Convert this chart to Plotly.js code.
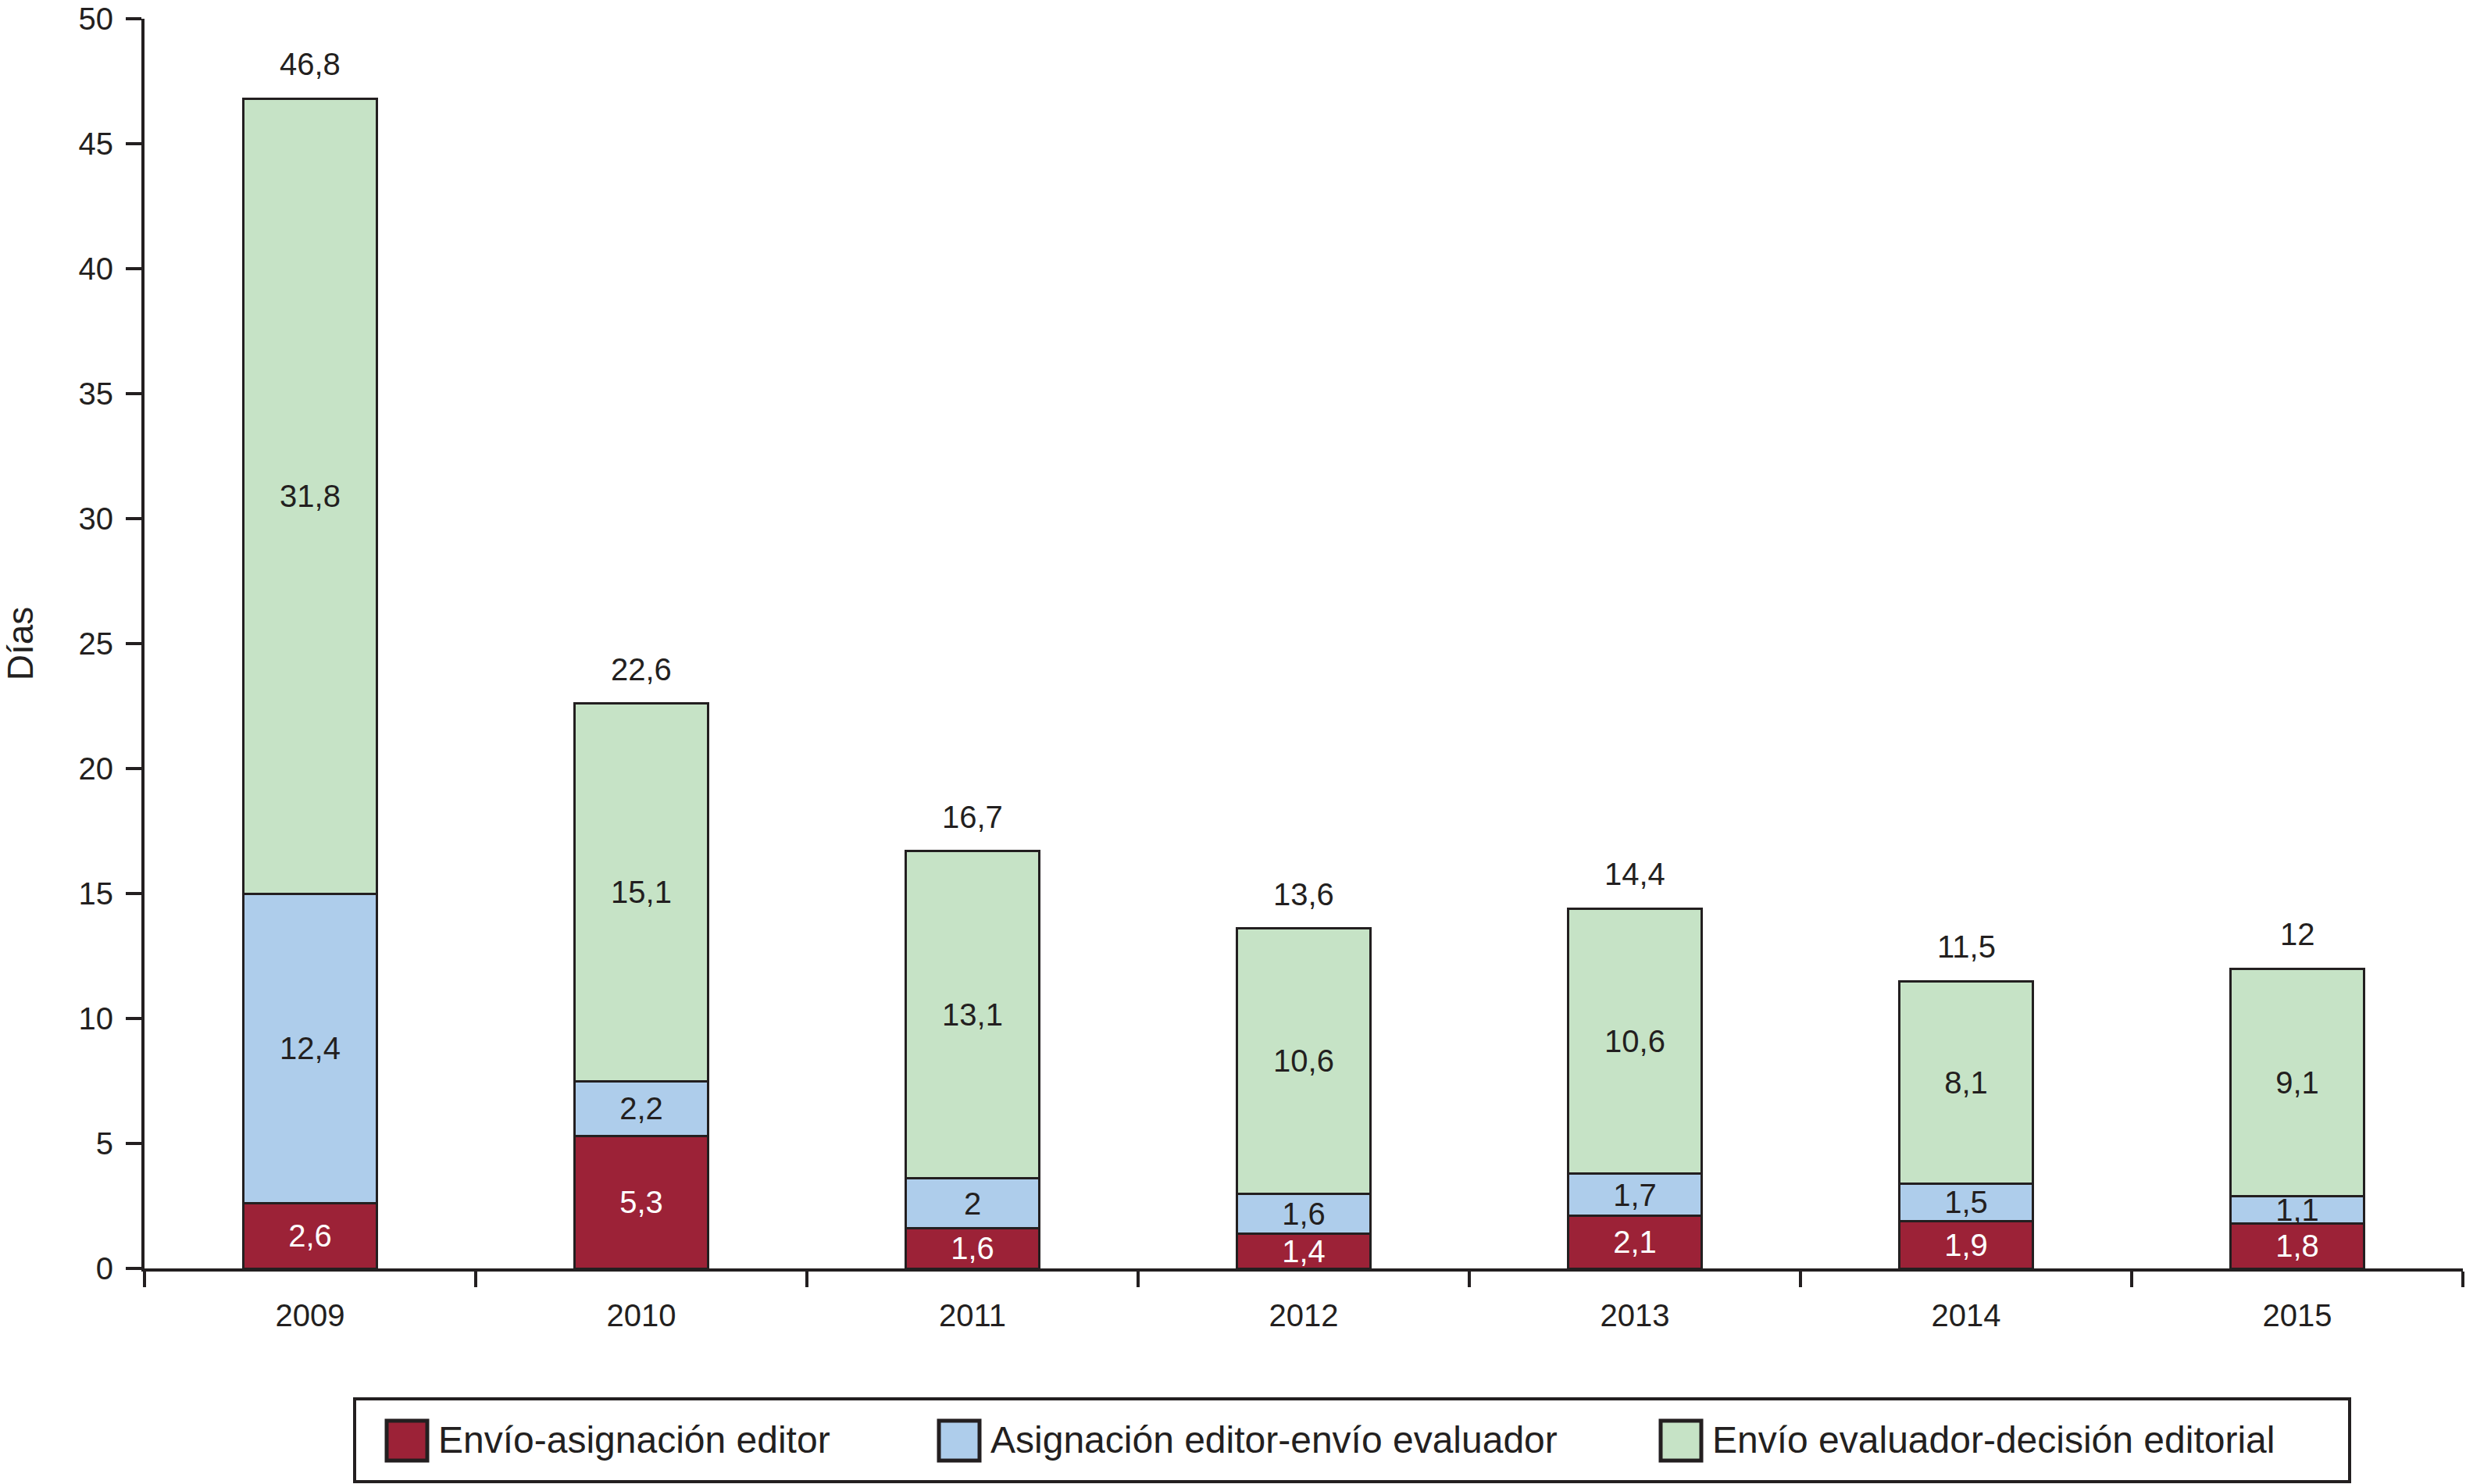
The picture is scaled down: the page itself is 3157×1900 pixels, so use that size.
<!DOCTYPE html>
<html><head><meta charset="utf-8">
<script src="https://cdn.plot.ly/plotly-3.0.1.min.js"></script>
<style>html,body{margin:0;padding:0;background:#fff}</style>
</head><body><div id="chart" style="width:3157px;height:1900px"></div>
<script>
// ---- data ----
const years = ['2009','2010','2011','2012','2013','2014','2015'];
const envioAsignacion = [2.6, 5.3, 1.6, 1.4, 2.1, 1.9, 1.8];
const asignacionEvaluador = [12.4, 2.2, 2, 1.6, 1.7, 1.5, 1.1];
const evaluadorDecision = [31.8, 15.1, 13.1, 10.6, 10.6, 8.1, 9.1];
const totals = [46.8, 22.6, 16.7, 13.6, 14.4, 11.5, 12];
const seriesNames = ['Envío-asignación editor', 'Asignación editor-envío evaluador', 'Envío evaluador-decisión editorial'];
const yTickVals = [0, 5, 10, 15, 20, 25, 30, 35, 40, 45, 50];
const yTitle = 'Días';

// ---- style ----
const seriesColors = ['#9c2237', '#aecdeb', '#c6e3c6'];
const labelColors = ['#ffffff', '#231f20', '#231f20'];
const ink = '#231f20';
const FONT = 'Liberation Sans, Arial, Helvetica, sans-serif';
const W = 3157, H = 1900;
const M = {l: 185, r: 4, t: 24, b: 276};
const fmt = v => String(v).replace('.', ',');

const seriesData = [envioAsignacion, asignacionEvaluador, evaluadorDecision];
const traces = seriesData.map((vals, i) => ({
  type: 'bar',
  name: seriesNames[i],
  x: years,
  y: vals,
  text: vals.map(fmt),
  texttemplate: '%{text}',
  textposition: 'inside',
  insidetextanchor: 'middle',
  constraintext: 'none',
  textangle: 0,
  textfont: {family: FONT, size: 40, color: labelColors[i]},
  marker: {color: seriesColors[i], line: {color: ink, width: 3}},
  showlegend: false,
  hoverinfo: 'x+y+name'
}));

// pixel -> paper helpers for the legend box
const pw = W - M.l - M.r, ph = H - M.t - M.b;
const px = x => (x - M.l) / pw;
const py = y => (H - M.b - y) / ph;

const shapes = [{
  type: 'rect', xref: 'paper', yref: 'paper',
  x0: px(454), x1: px(3008), y0: py(1791), y1: py(1897),
  line: {color: ink, width: 4}, fillcolor: 'rgba(0,0,0,0)'
}];
const legendSquareX = [495, 1202, 2126];
const annotations = [];
seriesNames.forEach((n, i) => {
  const x0 = legendSquareX[i];
  shapes.push({
    type: 'rect', xref: 'paper', yref: 'paper',
    x0: px(x0), x1: px(x0 + 52), y0: py(1819), y1: py(1870),
    line: {color: ink, width: 5}, fillcolor: seriesColors[i]
  });
  annotations.push({
    xref: 'paper', yref: 'paper', x: px(x0 + 64), y: py(1843),
    xanchor: 'left', yanchor: 'middle', showarrow: false,
    text: n, font: {family: FONT, size: 48, color: ink}
  });
});
// total labels above each stacked bar (x given as category serial number)
totals.forEach((t, i) => {
  annotations.push({
    x: i, y: t, xref: 'x', yref: 'y',
    text: fmt(t), showarrow: false, xanchor: 'center', yanchor: 'middle', yshift: 44,
    font: {family: FONT, size: 40, color: ink}
  });
});

const layout = {
  width: W, height: H,
  margin: M,
  paper_bgcolor: '#fff', plot_bgcolor: '#fff',
  barmode: 'stack',
  bargap: 0.598,
  separators: ',.',
  font: {family: FONT, color: ink, size: 40},
  showlegend: false,
  xaxis: {
    type: 'category',
    range: [-0.5, 6.5],
    showline: true, linecolor: ink, linewidth: 4,
    ticks: 'outside', tickson: 'boundaries', ticklen: 20, tickwidth: 4, tickcolor: ink,
    ticklabelstandoff: 22,
    tickfont: {family: FONT, size: 40, color: ink},
    showgrid: false, zeroline: false, fixedrange: true
  },
  yaxis: {
    range: [0, 50],
    tickvals: yTickVals,
    showline: true, linecolor: ink, linewidth: 4,
    ticks: 'outside', ticklen: 20, tickwidth: 4, tickcolor: ink,
    ticklabelstandoff: 8,
    tickfont: {family: FONT, size: 40, color: ink},
    showgrid: false, zeroline: false, fixedrange: true,
    title: {text: yTitle, font: {family: FONT, size: 46, color: ink}, standoff: 44}
  },
  shapes: shapes,
  annotations: annotations
};

Plotly.newPlot('chart', traces, layout, {displayModeBar: false, staticPlot: true});
</script>
</body></html>
